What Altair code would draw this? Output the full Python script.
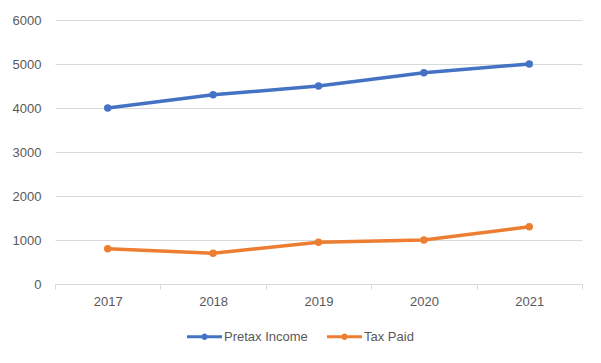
import altair as alt
import pandas as pd

years = ["2017", "2018", "2019", "2020", "2021"]
pretax_income = [4000, 4300, 4500, 4800, 5000]
tax_paid = [800, 700, 950, 1000, 1300]
series_names = ["Pretax Income", "Tax Paid"]
series_colors = ["#4472C4", "#ED7D31"]
y_ticks = [0, 1000, 2000, 3000, 4000, 5000, 6000]

rows = []
for y, v in zip(years, pretax_income):
    rows.append({"Year": y, "Series": series_names[0], "Value": v})
for y, v in zip(years, tax_paid):
    rows.append({"Year": y, "Series": series_names[1], "Value": v})
df = pd.DataFrame(rows)

FONT = "Liberation Sans"
TXT = "#595959"
GRID = "#d9d9d9"

x_enc = alt.X("Year:N", sort=years, title=None,
              scale=alt.Scale(paddingInner=0, paddingOuter=0),
              axis=alt.Axis(tickBand="extent", labelAngle=0, domainColor=GRID,
                            tickColor=GRID, tickSize=5, labelPadding=6, grid=False,
                            labelFont=FONT, labelFontSize=13, labelColor=TXT))
y_enc = alt.Y("Value:Q", title=None,
              scale=alt.Scale(domain=[0, 6000], nice=False),
              axis=alt.Axis(values=y_ticks, domain=False, ticks=False, format="d",
                            gridColor=GRID, labelPadding=14,
                            labelFont=FONT, labelFontSize=13, labelColor=TXT))
color_scale = alt.Scale(domain=series_names, range=series_colors)

legend_path = ("M -1 -0.09 L 1 -0.09 L 1 0.09 L -1 0.09 Z "
               "M 0.18 0 A 0.18 0.18 0 1 1 -0.18 0 A 0.18 0.18 0 1 1 0.18 0 Z")

legend = alt.Legend(title=None, orient="none", direction="horizontal",
                    legendX=132, legendY=299,
                    symbolType=legend_path, symbolSize=1225,
                    symbolStrokeWidth=0, symbolOpacity=1, labelOffset=2,
                    columnPadding=19,
                    labelFont=FONT, labelFontSize=13, labelColor=TXT)

color_enc = alt.Color("Series:N", scale=color_scale, sort=series_names, legend=legend)

lines = alt.Chart(df).mark_line(strokeWidth=3.5).encode(
    x=x_enc, y=y_enc, color=color_enc,
)
points = alt.Chart(df).mark_point(filled=True, size=55, opacity=1).encode(
    x=x_enc, y=y_enc, color=color_enc,
)

chart = (lines + points).properties(
    width=527, height=264,
    background="white",
    autosize=alt.AutoSizeParams(type="none"),
    padding={"left": 47, "top": 12, "right": 11, "bottom": 70},
).configure_view(stroke=None)

chart.save("out.html", embed_options={"renderer": "svg", "actions": False})
